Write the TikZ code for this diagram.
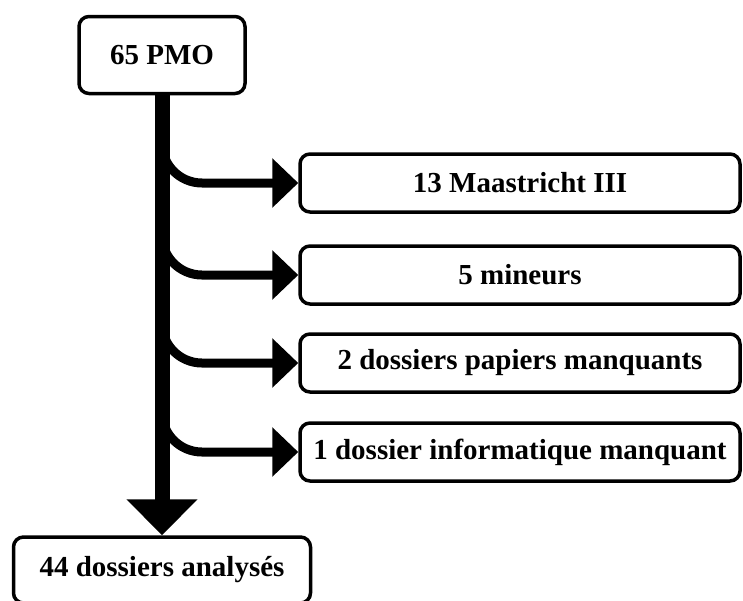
\documentclass[tikz,border=0pt]{standalone}
\usepackage{fontspec}
\setmainfont{Liberation Serif}
\usetikzlibrary{arrows.meta, calc}

\begin{document}
\begin{tikzpicture}[x=1pt, y=-1pt,
	box/.style={draw, line width=3.5pt, rounded corners=10pt, fill=white, inner sep=0pt,
		font=\fontsize{29}{34}\selectfont\bfseries},
	trunk/.style={line width=15pt, -{Triangle[length=36pt, width=69pt]}},
	branch/.style={line width=9pt, rounded corners=40pt, -{Triangle[length=26pt, width=48pt]}}]
	\useasboundingbox (0,0) rectangle (743,600);
	\node [box, minimum width=166pt, minimum height=77pt] (pmo) at (162,55) {65 PMO};
	\node [box, minimum width=297pt, minimum height=66pt] (res) at (162,570) {44 dossiers analysés};
	\draw [trunk] (pmo.south) -- (res.north);
	\foreach \name/\ypos/\txt in {maas/183/{13 Maastricht III}, mineurs/275/{5 mineurs},
		papier/363/{2 dossiers papiers manquants}, info/452/{1 dossier informatique manquant}}{
		\node [box, minimum width=440pt, minimum height=58pt] (\name) at (520,\ypos) {\txt};
		\coordinate (\name-start) at ($(\name.west -| pmo.south)+(0,-50)$);
		\draw [branch] (\name-start) |- (\name.west);
	}
\end{tikzpicture}
\end{document}
